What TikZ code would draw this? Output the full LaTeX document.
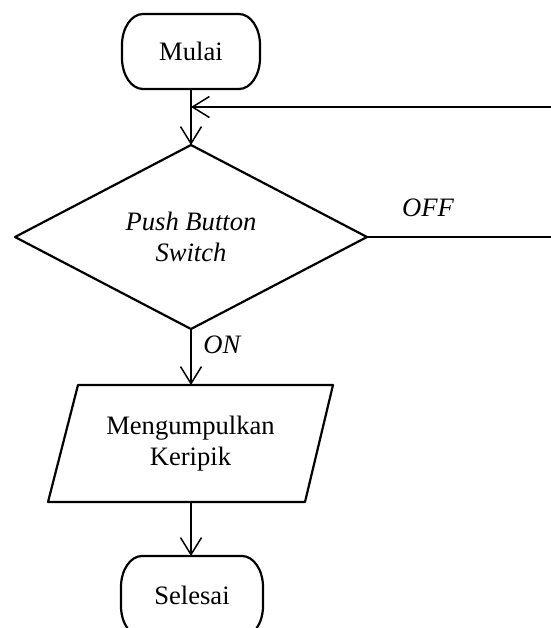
\documentclass[tikz,border=0pt]{standalone}
\usepackage{fontspec}
\setmainfont{Liberation Serif}
\usetikzlibrary{shapes.geometric,arrows.meta}
\newcommand\termoutline[1]{%
  \draw[shapeline] ([xshift=10.5pt]#1.north west) -- ([xshift=-10.5pt]#1.north east)
    arc[start angle=90,end angle=0,x radius=10.5pt,y radius=15.5pt]
    -- ([yshift=15.5pt]#1.south east)
    arc[start angle=0,end angle=-90,x radius=10.5pt,y radius=15.5pt]
    -- ([xshift=10.5pt]#1.south west)
    arc[start angle=270,end angle=180,x radius=10.5pt,y radius=15.5pt]
    -- ([yshift=-15.5pt]#1.north west)
    arc[start angle=180,end angle=90,x radius=10.5pt,y radius=15.5pt] -- cycle;}
\begin{document}
\begin{tikzpicture}[x=0.5pt,y=-0.5pt,
  every node/.style={font=\fontsize{13.3}{15.8}\selectfont},
  shapeline/.style={line width=1.1pt,line join=round},
  term/.style={rectangle,inner sep=0pt,outer sep=0pt,align=center},
  deci/.style={shapeline,draw,diamond,inner sep=0pt,outer sep=0pt,align=center,minimum width=176pt,minimum height=92pt},
  iobox/.style={rectangle,inner sep=0pt,outer sep=0pt,align=center,minimum width=142.5pt,minimum height=58.5pt},
  conn/.style={line width=0.75pt},
  arr/.style={conn,-{Straight Barb[length=8.5pt,width=10.5pt,line width=0.75pt]}},
  lbl/.style={font=\fontsize{13.3}{15.8}\selectfont\itshape,inner sep=0pt}
]
\useasboundingbox (0,0) rectangle (551,628);
\node[term,minimum width=69pt,minimum height=37.5pt] (mulai) at (191,51.5) {Mulai};
\termoutline{mulai}
\node[deci] (dec) at (191,237) {\itshape Push Button\\\itshape Switch};
\node[iobox] (io) at (190.5,443.5) {Mengumpulkan\\Keripik};
\draw[shapeline] (io.south west) -- ([xshift=15pt]io.north west) -- (io.north east) -- ([xshift=-14pt]io.south east) -- cycle;
\node[term,minimum width=71pt,minimum height=40.5pt] (selesai) at (192,596.5) {\raisebox{1.5pt}{Selesai}};
\termoutline{selesai}
\coordinate (j) at (191,107);
\coordinate (rt) at (551,107);
\coordinate (ro) at (551,237);
\draw[arr] (mulai.south) -- (dec.north);
\draw[arr] (rt) -- (j);
\draw[conn] (dec.east) -- (ro);
\draw[arr] (dec.south) -- (io.north -| dec.south);
\draw[arr] (io.south -| dec.south) -- (selesai.north -| dec.south);
\node[lbl] (off) at (428,208) {OFF};
\node[lbl,anchor=west] (on) at (203,345) {ON};
\end{tikzpicture}
\end{document}
